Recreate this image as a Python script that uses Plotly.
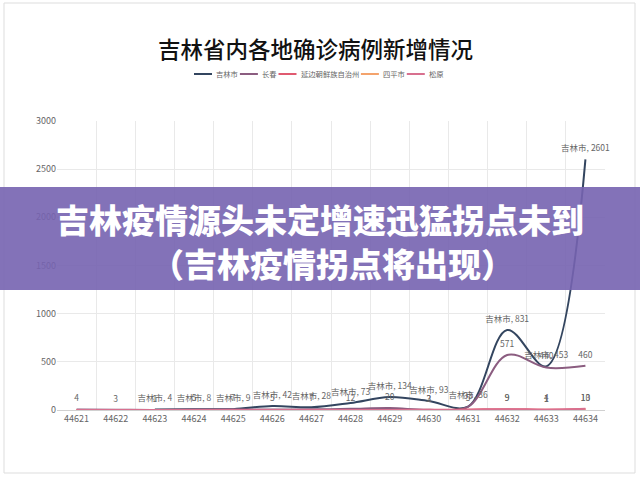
import plotly.graph_objects as go

categories = ["44621", "44622", "44623", "44624", "44625", "44626", "44627",
              "44628", "44629", "44630", "44631", "44632", "44633", "44634"]
series_names = ["吉林市", "长春", "延边朝鲜族自治州", "四平市", "松原"]
jilin_city = [None, None, 4, 8, 9, 42, 28, 73, 134, 93, 36, 831, 453, 2601]
changchun = [4, 3, 1, 5, 7, 5, 7, 12, 20, 3, 33, 571, 440, 460]
yanbian = [0, 0, 0, 0, 0, 0, 0, 0, 0, 2, 5, 9, 4, 10]
siping = [0, 0, 0, 0, 0, 0, 0, 0, 0, 0, 0, 0, 1, 0]
songyuan = [0, 0, 0, 0, 0, 0, 0, 0, 0, 0, 0, 9, 1, 13]
y_ticks = [0, 500, 1000, 1500, 2000, 2500, 3000]

colors = ["#33455f", "#8b5d80", "#e05a70", "#f4a36c", "#d8708f"]
title = "吉林省内各地确诊病例新增情况"
banner_lines = ["吉林疫情源头未定增速迅猛拐点未到", "（吉林疫情拐点将出现）"]

x_idx = list(range(len(categories)))
FONT = "Noto Sans CJK SC"

L, R, T, B = 57, 35, 121, 69
W = 640 - L - R
H = 479 - T - B
Y_MAX = 3000
label_lift = 6 * Y_MAX / H  # data labels sit a few pixels higher above their points

fig = go.Figure()
all_series = [jilin_city, changchun, yanbian, siping, songyuan]
for i, (name, vals) in enumerate(zip(series_names, all_series)):
    fig.add_trace(go.Scatter(
        x=x_idx, y=vals, name=name, mode="lines",
        line=dict(color=colors[i], width=2, shape="spline", smoothing=1.0),
        connectgaps=False, showlegend=False,
    ))
for i, (name, vals) in enumerate(zip(series_names, all_series)):
    if i == 0:
        txt = ["" if v is None else f"{name}, {v}" for v in vals]
    elif i == 1:
        txt = [str(v) for v in vals]
    else:
        txt = ["" if not v else str(v) for v in vals]
    fig.add_trace(go.Scatter(
        x=x_idx, y=vals, mode="text", yaxis="y2",
        text=txt, textposition="top center",
        textfont=dict(size=8.5, color="#666666", family=FONT),
        cliponaxis=False, showlegend=False, hoverinfo="skip",
    ))

def px_x(p):
    return (p - L) / W

def px_y(p):
    return (479 - B - p) / H

shapes = [
    dict(type="rect", xref="paper", yref="paper",
         x0=px_x(4), x1=px_x(635), y0=px_y(473), y1=px_y(3),
         line=dict(color="#dddddd", width=1), fillcolor="rgba(0,0,0,0)", layer="below"),
    dict(type="rect", xref="paper", yref="paper",
         x0=px_x(-2), x1=px_x(642), y0=px_y(290), y1=px_y(187),
         line=dict(width=0), fillcolor="rgba(118,99,176,0.9)", layer="above"),
]

annotations = [
    dict(text=title, xref="paper", yref="paper", x=px_x(315), y=px_y(48),
         showarrow=False, font=dict(size=22.5, color="#111111", family=FONT, weight=500),
         xanchor="center", yanchor="middle"),
    dict(text=banner_lines[0], xref="paper", yref="paper",
         x=px_x(320), y=px_y(219), showarrow=False,
         font=dict(size=33, color="white", family=FONT, weight=900),
         xanchor="center", yanchor="middle"),
    dict(text=banner_lines[1], xref="paper", yref="paper",
         x=px_x(332), y=px_y(263), showarrow=False,
         font=dict(size=33, color="white", family=FONT, weight=900),
         xanchor="center", yanchor="middle"),
]

# compact legend, laid out in pixels
leg_x = 194.0
leg_y = 74
char_w = 7.3
for name, col in zip(series_names, colors):
    shapes.append(dict(type="line", xref="paper", yref="paper",
                       x0=px_x(leg_x), x1=px_x(leg_x + 18), y0=px_y(leg_y), y1=px_y(leg_y),
                       line=dict(color=col, width=2)))
    annotations.append(dict(text=name, xref="paper", yref="paper", x=px_x(leg_x + 20),
                            y=px_y(leg_y), showarrow=False, xanchor="left", yanchor="middle",
                            font=dict(size=7.3, color="#666666", family=FONT)))
    leg_x += 20 + len(name) * char_w + 4

fig.update_layout(
    width=640, height=479,
    margin=dict(l=L, r=R, t=T, b=B),
    paper_bgcolor="white", plot_bgcolor="white",
    font=dict(family=FONT, color="#666666"),
    showlegend=False,
    shapes=shapes, annotations=annotations,
    xaxis=dict(range=[-0.5, len(categories) - 0.5], tickmode="array", tickvals=x_idx,
               ticktext=categories, showgrid=False, zeroline=False,
               showline=True, linecolor="#d0d0d0", ticks="",
               tickfont=dict(size=9, color="#666666", family=FONT),
               minor=dict(tickmode="linear", tick0=-0.5, dtick=1, showgrid=True,
                          gridcolor="#e9e9e9", gridwidth=1, ticks="")),
    yaxis=dict(range=[0, Y_MAX], tickmode="array", tickvals=y_ticks,
               ticktext=[str(v) for v in y_ticks], showgrid=True, gridcolor="#e9e9e9",
               zeroline=False, ticks="", tickfont=dict(size=9, color="#666666", family=FONT)),
    yaxis2=dict(overlaying="y", range=[-label_lift, Y_MAX - label_lift], visible=False,
                showgrid=False, zeroline=False),
)

fig.write_html("out.html")
